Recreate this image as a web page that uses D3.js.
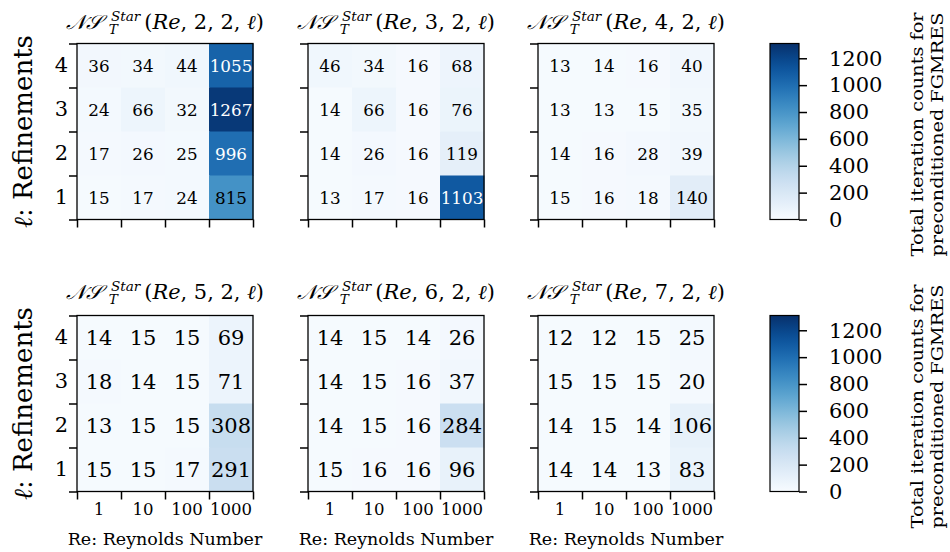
<!DOCTYPE html>
<html>
<head>
<meta charset="utf-8">
<script src="https://cdn.jsdelivr.net/npm/d3@7"></script>
<style>
  html, body { margin: 0; padding: 0; background: #fff; }
  svg { display: block; font-family: "DejaVu Serif", "Liberation Serif", serif; }
</style>
</head>
<body>
<svg id="chart" width="950" height="552"></svg>
<script>
// ---------------- data ----------------
const reynolds = ["1", "10", "100", "1000"];
const refinementLabels = ["4", "3", "2", "1"];          // top to bottom
const panelParams = [2, 3, 4, 5, 6, 7];                  // NS_T^Star(Re, k, 2, l)
const colorbarTicks = [0, 200, 400, 600, 800, 1000, 1200];
const colorMax = 1310;

// rows: l = 4, 3, 2, 1 ; columns: Re = 1, 10, 100, 1000
const ns2 = [[36, 34, 44, 1055], [24, 66, 32, 1267], [17, 26, 25, 996], [15, 17, 24, 815]];
const ns3 = [[46, 34, 16, 68], [14, 66, 16, 76], [14, 26, 16, 119], [13, 17, 16, 1103]];
const ns4 = [[13, 14, 16, 40], [13, 13, 15, 35], [14, 16, 28, 39], [15, 16, 18, 140]];
const ns5 = [[14, 15, 15, 69], [18, 14, 15, 71], [13, 15, 15, 308], [15, 15, 17, 291]];
const ns6 = [[14, 15, 14, 26], [14, 15, 16, 37], [14, 15, 16, 284], [15, 16, 16, 96]];
const ns7 = [[12, 12, 15, 25], [15, 15, 15, 20], [14, 15, 14, 106], [14, 14, 13, 83]];
const panelData = [ns2, ns3, ns4, ns5, ns6, ns7];

// ---------------- layout ----------------
const colX = [77, 308, 538];
const rowY = [43.5, 315.5];
const size = 176;
const cbX = 770, cbW = 29;
const cellFont = [16.8, 21];
const titleBase = [29, 299];

const svg = d3.select("#chart");
const color = d3.scaleSequential(d3.interpolateBlues).domain([0, colorMax]);
const x = d3.scaleBand().domain(reynolds).range([0, size]);
const y = d3.scaleBand().domain(refinementLabels).range([0, size]);
const edge = d3.scaleLinear().domain([0, 4]).range([0, size]);

function styleAxis(g) {
  g.select(".domain").remove();
  g.selectAll(".tick line").attr("stroke", "#000").attr("stroke-width", 1.5);
  g.selectAll("text").attr("fill", "#000").style("font-family", "DejaVu Serif, serif");
}

function drawTitle(g, k, cx, base) {
  const t = g.append("g");
  const fs = 20, fsS = 13;
  const a = t.append("text").attr("x", 0).attr("y", 0).style("font-size", fs + "px")
    .style("font-style", "italic").text("𝒩𝒮");
  let w = a.node().getBBox().width + 3;
  const sup = t.append("text").attr("x", w).attr("y", -8.5).style("font-size", fsS + "px")
    .style("font-style", "italic").text("Star");
  const sub = t.append("text").attr("x", w - 2).attr("y", 4.5).style("font-size", fsS + "px")
    .style("font-style", "italic").text("T");
  w += Math.max(sup.node().getBBox().width, sub.node().getBBox().width) + 3;
  const r = t.append("text").attr("x", w).attr("y", 0).style("font-size", fs + "px");
  r.append("tspan").text("(");
  r.append("tspan").style("font-style", "italic").text("Re");
  r.append("tspan").text(", " + k + ", 2, ");
  r.append("tspan").style("font-style", "italic").text("ℓ");
  r.append("tspan").text(")");
  w += r.node().getComputedTextLength();
  const target = 198;
  const sx = target / w;
  t.attr("transform", `translate(${cx - target / 2},${base}) scale(${sx},1)`);
}

panelData.forEach((data, i) => {
  const row = Math.floor(i / 3), col = i % 3;
  const g = svg.append("g").attr("transform", `translate(${colX[col]},${rowY[row]})`);

  const cells = [];
  data.forEach((vals, ri) => vals.forEach((v, ci) => cells.push({ re: reynolds[ci], l: refinementLabels[ri], v })));

  g.selectAll("rect.cell").data(cells).enter().append("rect")
    .attr("class", "cell")
    .attr("x", d => x(d.re)).attr("y", d => y(d.l))
    .attr("width", x.bandwidth() + 0.5).attr("height", y.bandwidth() + 0.5)
    .attr("fill", d => color(d.v));

  g.selectAll("text.val").data(cells).enter().append("text")
    .attr("class", "val")
    .attr("x", d => x(d.re) + x.bandwidth() / 2)
    .attr("y", d => y(d.l) + y.bandwidth() / 2)
    .attr("text-anchor", "middle").attr("dominant-baseline", "central")
    .style("font-size", cellFont[row] + "px")
    .attr("fill", d => d.v / colorMax > 0.7 ? "#fff" : "#000")
    .text(d => d.v);

  // frame
  g.append("rect").attr("x", 0).attr("y", 0).attr("width", size).attr("height", size)
    .attr("fill", "none").attr("stroke", "#000").attr("stroke-width", 1.3);

  // edge ticks
  g.append("g").attr("transform", `translate(0,${size})`)
    .call(d3.axisBottom(edge).tickValues([0, 1, 2, 3, 4]).tickFormat("").tickSize(8).tickSizeOuter(0))
    .call(styleAxis);
  g.append("g")
    .call(d3.axisLeft(edge).tickValues([0, 1, 2, 3, 4]).tickFormat("").tickSize(8).tickSizeOuter(0))
    .call(styleAxis);

  if (col === 0) {
    g.append("g").call(d3.axisLeft(y).tickSize(0).tickPadding(9)).call(styleAxis)
      .selectAll("text").style("font-size", "21px");
    g.append("text")
      .attr("transform", `translate(${32 - colX[0]},${size / 2}) rotate(-90)`)
      .attr("text-anchor", "middle").style("font-size", "26px")
      .call(t => { t.append("tspan").style("font-style", "italic").text("ℓ"); t.append("tspan").text(":  Refinements"); });
  }
  if (row === 1) {
    g.append("g").attr("transform", `translate(0,${size})`)
      .call(d3.axisBottom(x).tickSize(0).tickPadding(12)).call(styleAxis)
      .selectAll("text").style("font-size", "16.5px");
    g.append("text").attr("x", size / 2).attr("y", 545 - rowY[1])
      .attr("text-anchor", "middle").style("font-size", "17.5px").text("Re:  Reynolds Number");
  }
  drawTitle(svg, panelParams[i], colX[col] + size / 2, titleBase[row]);
});

// ---------------- colorbars ----------------
const defs = svg.append("defs");
const grad = defs.append("linearGradient").attr("id", "cbgrad")
  .attr("x1", 0).attr("y1", 1).attr("x2", 0).attr("y2", 0);
d3.range(0, 1.0001, 0.05).forEach(p => grad.append("stop").attr("offset", p).attr("stop-color", color(p * colorMax)));

const cbScale = d3.scaleLinear().domain([0, colorMax]).range([size, 0]);
rowY.forEach((ry, row) => {
  const g = svg.append("g").attr("transform", `translate(${cbX},${ry})`);
  g.append("rect").attr("width", cbW).attr("height", size).attr("fill", "url(#cbgrad)")
    .attr("stroke", "#000").attr("stroke-width", 1.2);
  g.append("g").attr("transform", `translate(${cbW},0)`)
    .call(d3.axisRight(cbScale).tickValues(colorbarTicks).tickFormat(d3.format("d"))
      .tickSize(8).tickPadding(22).tickSizeOuter(0))
    .call(styleAxis)
    .selectAll("text").style("font-size", "21px");
  const cy = ry + size / 2 + 3;
  svg.append("text").attr("transform", `translate(923,${cy}) rotate(-90)`)
    .attr("text-anchor", "middle").style("font-size", "16px")
    .attr("textLength", 244).attr("lengthAdjust", "spacingAndGlyphs")
    .text("Total iteration counts for");
  svg.append("text").attr("transform", `translate(943,${cy}) rotate(-90)`)
    .attr("text-anchor", "middle").style("font-size", "16px")
    .attr("textLength", 244).attr("lengthAdjust", "spacingAndGlyphs")
    .text("preconditioned FGMRES");
});
</script>
</body>
</html>
